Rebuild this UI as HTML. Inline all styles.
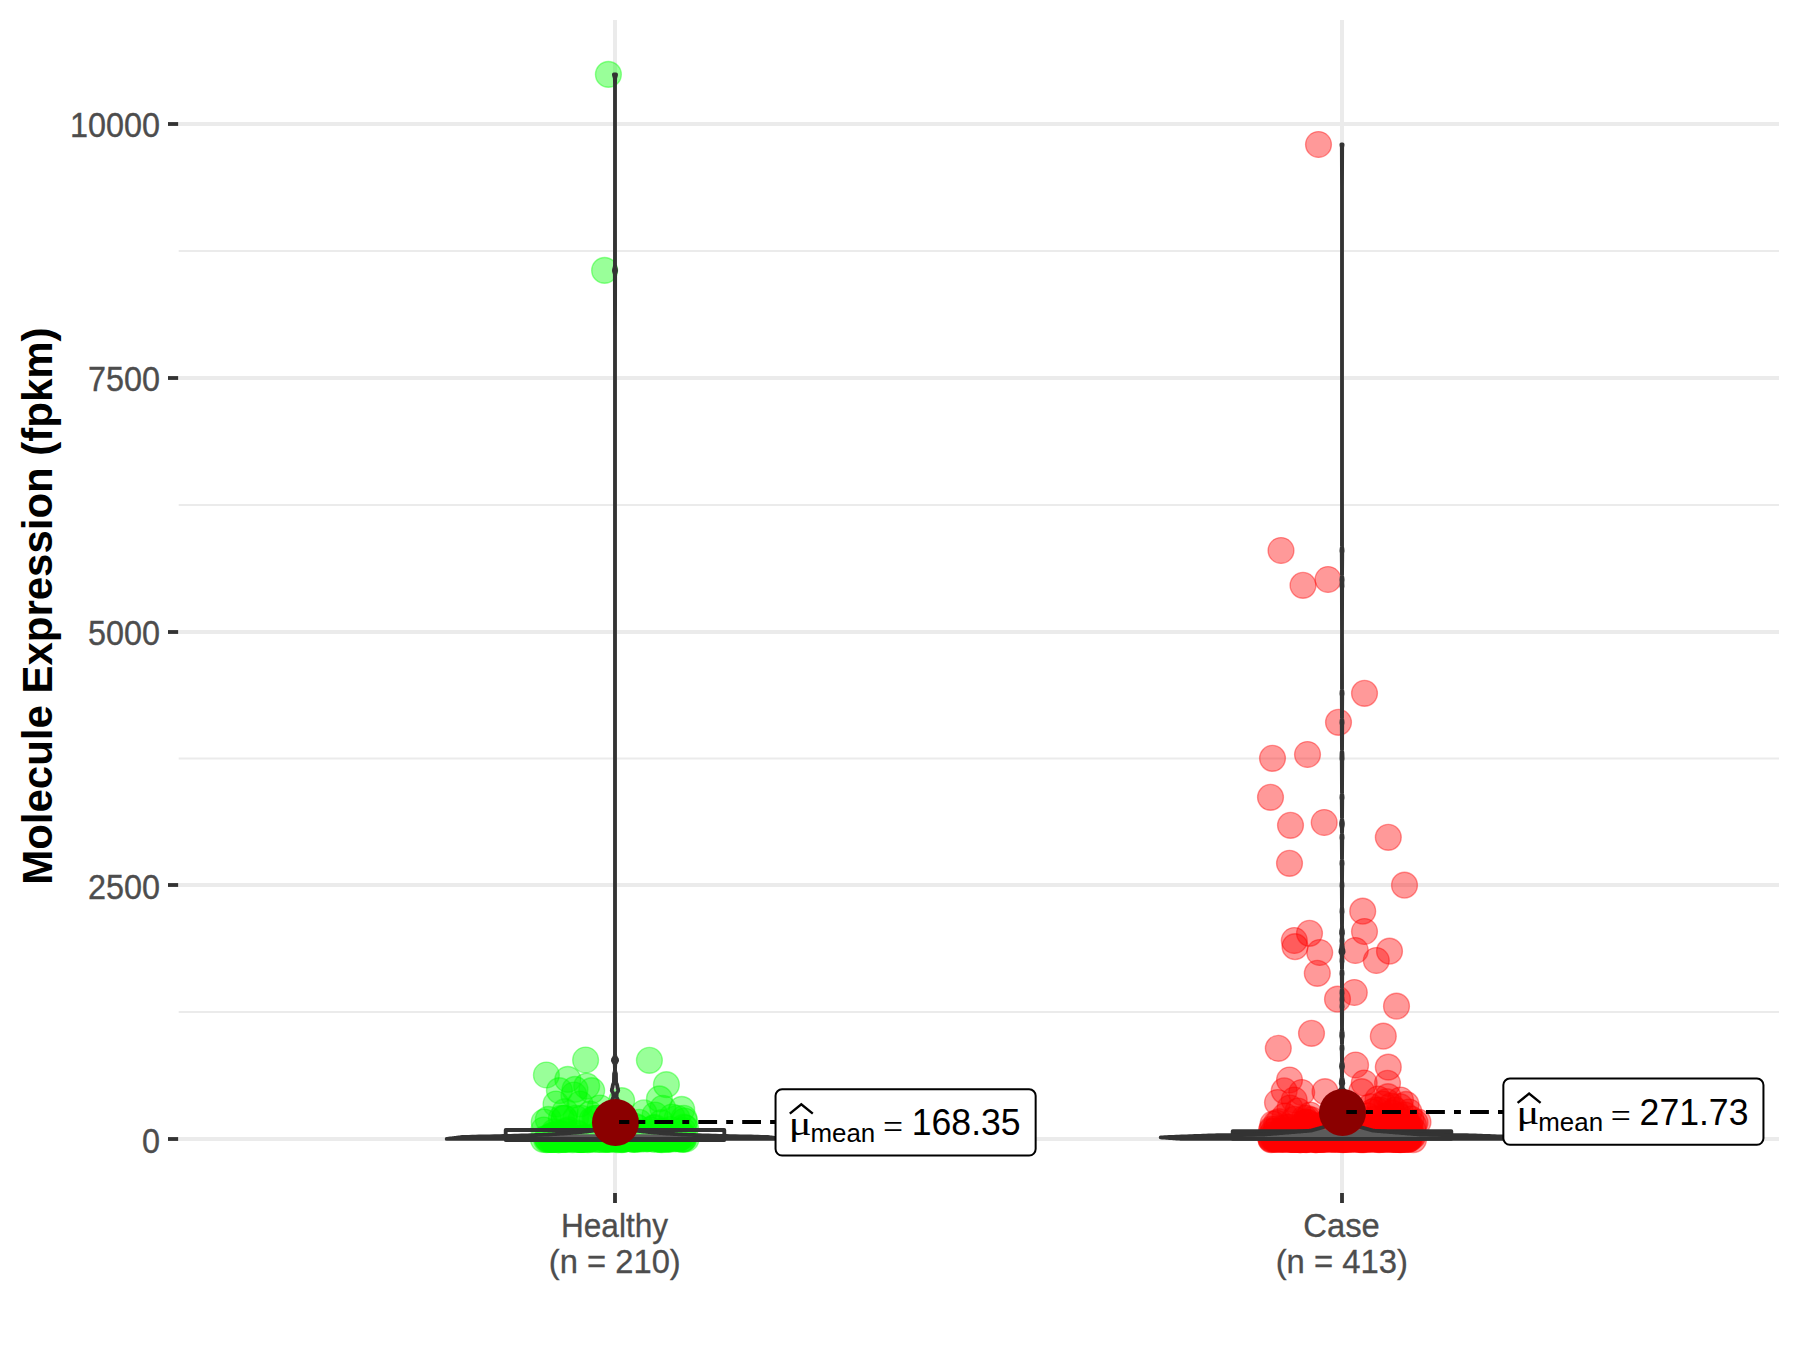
<!DOCTYPE html>
<html lang="en">
<head>
<meta charset="utf-8">
<title>Molecule Expression (fpkm)</title>
<style>
html,body{margin:0;padding:0;background:#fff;}
body{width:1800px;height:1350px;overflow:hidden;font-family:"Liberation Sans",sans-serif;}
svg{display:block;}
</style>
</head>
<body>
<svg width="1800" height="1350" viewBox="0 0 1800 1350">
<rect x="0" y="0" width="1800" height="1350" fill="#fff"/>
<line x1="178.7" x2="1779.0" y1="1012.00" y2="1012.00" stroke="#EBEBEB" stroke-width="1.9"/>
<line x1="178.7" x2="1779.0" y1="758.50" y2="758.50" stroke="#EBEBEB" stroke-width="1.9"/>
<line x1="178.7" x2="1779.0" y1="505.00" y2="505.00" stroke="#EBEBEB" stroke-width="1.9"/>
<line x1="178.7" x2="1779.0" y1="251.00" y2="251.00" stroke="#EBEBEB" stroke-width="1.9"/>
<line x1="178.7" x2="1779.0" y1="1139.00" y2="1139.00" stroke="#EBEBEB" stroke-width="4.0"/>
<line x1="178.7" x2="1779.0" y1="885.00" y2="885.00" stroke="#EBEBEB" stroke-width="4.0"/>
<line x1="178.7" x2="1779.0" y1="632.00" y2="632.00" stroke="#EBEBEB" stroke-width="4.0"/>
<line x1="178.7" x2="1779.0" y1="378.00" y2="378.00" stroke="#EBEBEB" stroke-width="4.0"/>
<line x1="178.7" x2="1779.0" y1="124.00" y2="124.00" stroke="#EBEBEB" stroke-width="4.0"/>
<line x1="615.0" x2="615.0" y1="20.0" y2="1193.0" stroke="#EBEBEB" stroke-width="4.0"/>
<line x1="1342.0" x2="1342.0" y1="20.0" y2="1193.0" stroke="#EBEBEB" stroke-width="4.0"/>
<g fill="rgb(0,255,0)" fill-opacity="0.4" stroke="rgb(0,255,0)" stroke-opacity="0.4" stroke-width="1.4">
<circle cx="608.4" cy="74.4" r="12.9"/>
<circle cx="604.6" cy="270.4" r="12.9"/>
<circle cx="585.6" cy="1060.0" r="12.9"/>
<circle cx="649.4" cy="1060.3" r="12.9"/>
<circle cx="546.4" cy="1075.0" r="12.9"/>
<circle cx="567.8" cy="1079.4" r="12.9"/>
<circle cx="666.4" cy="1084.7" r="12.9"/>
<circle cx="559.4" cy="1090.6" r="12.9"/>
<circle cx="575.0" cy="1089.4" r="12.9"/>
<circle cx="586.7" cy="1086.1" r="12.9"/>
<circle cx="591.7" cy="1090.6" r="12.9"/>
<circle cx="573.9" cy="1095.0" r="12.9"/>
<circle cx="621.7" cy="1100.6" r="12.9"/>
<circle cx="659.4" cy="1098.9" r="12.9"/>
<circle cx="662.8" cy="1108.3" r="12.9"/>
<circle cx="681.7" cy="1109.4" r="12.9"/>
<circle cx="643.9" cy="1112.8" r="12.9"/>
<circle cx="565.0" cy="1111.7" r="12.9"/>
<circle cx="548.3" cy="1119.4" r="12.9"/>
<circle cx="600.0" cy="1108.0" r="12.9"/>
<circle cx="580.0" cy="1104.0" r="12.9"/>
<circle cx="655.0" cy="1115.0" r="12.9"/>
<circle cx="672.0" cy="1117.0" r="12.9"/>
<circle cx="556.0" cy="1104.0" r="12.9"/>
<circle cx="590.0" cy="1114.0" r="12.9"/>
<circle cx="590.0" cy="1138.8" r="12.9"/>
<circle cx="554.3" cy="1136.1" r="12.9"/>
<circle cx="552.2" cy="1139.3" r="12.9"/>
<circle cx="605.6" cy="1139.5" r="12.9"/>
<circle cx="604.3" cy="1138.6" r="12.9"/>
<circle cx="575.7" cy="1118.3" r="12.9"/>
<circle cx="625.9" cy="1138.4" r="12.9"/>
<circle cx="550.6" cy="1137.0" r="12.9"/>
<circle cx="564.5" cy="1139.2" r="12.9"/>
<circle cx="659.9" cy="1138.9" r="12.9"/>
<circle cx="634.7" cy="1138.9" r="12.9"/>
<circle cx="552.9" cy="1139.3" r="12.9"/>
<circle cx="640.6" cy="1139.2" r="12.9"/>
<circle cx="627.1" cy="1136.9" r="12.9"/>
<circle cx="656.8" cy="1137.5" r="12.9"/>
<circle cx="625.6" cy="1123.8" r="12.9"/>
<circle cx="647.6" cy="1138.4" r="12.9"/>
<circle cx="560.8" cy="1138.7" r="12.9"/>
<circle cx="565.6" cy="1139.3" r="12.9"/>
<circle cx="638.9" cy="1133.1" r="12.9"/>
<circle cx="668.3" cy="1138.8" r="12.9"/>
<circle cx="628.4" cy="1135.0" r="12.9"/>
<circle cx="663.3" cy="1134.7" r="12.9"/>
<circle cx="638.3" cy="1138.7" r="12.9"/>
<circle cx="635.9" cy="1126.5" r="12.9"/>
<circle cx="584.4" cy="1138.8" r="12.9"/>
<circle cx="547.2" cy="1138.2" r="12.9"/>
<circle cx="560.6" cy="1138.7" r="12.9"/>
<circle cx="562.4" cy="1139.1" r="12.9"/>
<circle cx="667.7" cy="1139.1" r="12.9"/>
<circle cx="622.0" cy="1126.6" r="12.9"/>
<circle cx="666.7" cy="1139.1" r="12.9"/>
<circle cx="594.9" cy="1118.3" r="12.9"/>
<circle cx="565.4" cy="1139.3" r="12.9"/>
<circle cx="577.1" cy="1132.8" r="12.9"/>
<circle cx="581.3" cy="1139.1" r="12.9"/>
<circle cx="596.4" cy="1118.3" r="12.9"/>
<circle cx="642.1" cy="1132.3" r="12.9"/>
<circle cx="640.0" cy="1138.5" r="12.9"/>
<circle cx="654.8" cy="1127.4" r="12.9"/>
<circle cx="599.7" cy="1139.5" r="12.9"/>
<circle cx="634.1" cy="1139.5" r="12.9"/>
<circle cx="573.6" cy="1139.2" r="12.9"/>
<circle cx="551.5" cy="1139.4" r="12.9"/>
<circle cx="558.4" cy="1139.6" r="12.9"/>
<circle cx="668.2" cy="1138.4" r="12.9"/>
<circle cx="579.8" cy="1139.2" r="12.9"/>
<circle cx="561.4" cy="1118.3" r="12.9"/>
<circle cx="610.2" cy="1138.9" r="12.9"/>
<circle cx="558.5" cy="1139.3" r="12.9"/>
<circle cx="661.7" cy="1139.6" r="12.9"/>
<circle cx="679.0" cy="1138.4" r="12.9"/>
<circle cx="621.1" cy="1139.0" r="12.9"/>
<circle cx="682.9" cy="1130.5" r="12.9"/>
<circle cx="581.1" cy="1139.4" r="12.9"/>
<circle cx="653.6" cy="1128.1" r="12.9"/>
<circle cx="590.8" cy="1138.6" r="12.9"/>
<circle cx="683.9" cy="1127.1" r="12.9"/>
<circle cx="660.2" cy="1137.6" r="12.9"/>
<circle cx="617.5" cy="1139.6" r="12.9"/>
<circle cx="548.0" cy="1139.3" r="12.9"/>
<circle cx="642.3" cy="1135.1" r="12.9"/>
<circle cx="677.1" cy="1118.3" r="12.9"/>
<circle cx="595.8" cy="1139.3" r="12.9"/>
<circle cx="571.9" cy="1138.8" r="12.9"/>
<circle cx="671.8" cy="1134.6" r="12.9"/>
<circle cx="636.7" cy="1138.9" r="12.9"/>
<circle cx="637.8" cy="1128.0" r="12.9"/>
<circle cx="650.5" cy="1138.1" r="12.9"/>
<circle cx="656.1" cy="1138.6" r="12.9"/>
<circle cx="682.0" cy="1139.1" r="12.9"/>
<circle cx="678.4" cy="1138.2" r="12.9"/>
<circle cx="562.0" cy="1138.5" r="12.9"/>
<circle cx="658.5" cy="1138.6" r="12.9"/>
<circle cx="683.2" cy="1136.3" r="12.9"/>
<circle cx="621.9" cy="1139.6" r="12.9"/>
<circle cx="681.9" cy="1133.9" r="12.9"/>
<circle cx="676.6" cy="1138.5" r="12.9"/>
<circle cx="661.3" cy="1139.3" r="12.9"/>
<circle cx="585.6" cy="1138.9" r="12.9"/>
<circle cx="580.8" cy="1139.4" r="12.9"/>
<circle cx="673.2" cy="1139.0" r="12.9"/>
<circle cx="626.8" cy="1135.4" r="12.9"/>
<circle cx="674.3" cy="1133.8" r="12.9"/>
<circle cx="618.3" cy="1139.1" r="12.9"/>
<circle cx="570.0" cy="1138.6" r="12.9"/>
<circle cx="568.5" cy="1129.8" r="12.9"/>
<circle cx="623.0" cy="1139.0" r="12.9"/>
<circle cx="622.9" cy="1138.7" r="12.9"/>
<circle cx="623.6" cy="1139.3" r="12.9"/>
<circle cx="653.7" cy="1133.3" r="12.9"/>
<circle cx="651.9" cy="1135.1" r="12.9"/>
<circle cx="631.0" cy="1134.1" r="12.9"/>
<circle cx="642.4" cy="1133.8" r="12.9"/>
<circle cx="611.9" cy="1130.5" r="12.9"/>
<circle cx="668.5" cy="1137.3" r="12.9"/>
<circle cx="623.5" cy="1125.6" r="12.9"/>
<circle cx="563.5" cy="1139.1" r="12.9"/>
<circle cx="554.3" cy="1139.5" r="12.9"/>
<circle cx="639.1" cy="1122.3" r="12.9"/>
<circle cx="565.9" cy="1131.4" r="12.9"/>
<circle cx="564.3" cy="1118.3" r="12.9"/>
<circle cx="575.2" cy="1135.7" r="12.9"/>
<circle cx="613.2" cy="1126.0" r="12.9"/>
<circle cx="566.9" cy="1139.0" r="12.9"/>
<circle cx="592.2" cy="1139.2" r="12.9"/>
<circle cx="646.5" cy="1138.9" r="12.9"/>
<circle cx="606.5" cy="1139.2" r="12.9"/>
<circle cx="632.6" cy="1139.1" r="12.9"/>
<circle cx="683.9" cy="1118.3" r="12.9"/>
<circle cx="558.9" cy="1139.6" r="12.9"/>
<circle cx="654.6" cy="1139.4" r="12.9"/>
<circle cx="604.0" cy="1126.6" r="12.9"/>
<circle cx="580.7" cy="1138.5" r="12.9"/>
<circle cx="625.0" cy="1138.9" r="12.9"/>
<circle cx="552.2" cy="1135.4" r="12.9"/>
<circle cx="554.3" cy="1131.9" r="12.9"/>
<circle cx="657.8" cy="1138.6" r="12.9"/>
<circle cx="553.5" cy="1135.0" r="12.9"/>
<circle cx="592.2" cy="1119.7" r="12.9"/>
<circle cx="582.0" cy="1139.0" r="12.9"/>
<circle cx="577.9" cy="1139.4" r="12.9"/>
<circle cx="551.2" cy="1139.2" r="12.9"/>
<circle cx="587.3" cy="1137.0" r="12.9"/>
<circle cx="615.0" cy="1139.2" r="12.9"/>
<circle cx="546.6" cy="1139.6" r="12.9"/>
<circle cx="648.1" cy="1138.0" r="12.9"/>
<circle cx="611.4" cy="1138.7" r="12.9"/>
<circle cx="660.3" cy="1139.0" r="12.9"/>
<circle cx="662.5" cy="1139.0" r="12.9"/>
<circle cx="641.7" cy="1136.4" r="12.9"/>
<circle cx="662.2" cy="1131.9" r="12.9"/>
<circle cx="601.5" cy="1139.5" r="12.9"/>
<circle cx="562.4" cy="1138.7" r="12.9"/>
<circle cx="580.3" cy="1139.5" r="12.9"/>
<circle cx="663.5" cy="1131.1" r="12.9"/>
<circle cx="584.0" cy="1139.2" r="12.9"/>
<circle cx="609.2" cy="1139.1" r="12.9"/>
<circle cx="581.4" cy="1118.3" r="12.9"/>
<circle cx="621.7" cy="1138.4" r="12.9"/>
<circle cx="588.0" cy="1139.6" r="12.9"/>
<circle cx="598.2" cy="1134.3" r="12.9"/>
<circle cx="572.5" cy="1139.6" r="12.9"/>
<circle cx="581.5" cy="1139.1" r="12.9"/>
<circle cx="549.9" cy="1139.2" r="12.9"/>
<circle cx="577.1" cy="1133.9" r="12.9"/>
<circle cx="650.6" cy="1130.0" r="12.9"/>
<circle cx="668.8" cy="1139.2" r="12.9"/>
<circle cx="683.8" cy="1138.7" r="12.9"/>
<circle cx="635.3" cy="1138.6" r="12.9"/>
<circle cx="670.7" cy="1129.5" r="12.9"/>
<circle cx="659.3" cy="1139.0" r="12.9"/>
<circle cx="615.6" cy="1127.2" r="12.9"/>
<circle cx="661.4" cy="1122.6" r="12.9"/>
<circle cx="641.0" cy="1137.6" r="12.9"/>
<circle cx="548.4" cy="1139.2" r="12.9"/>
<circle cx="558.9" cy="1133.4" r="12.9"/>
<circle cx="633.1" cy="1130.9" r="12.9"/>
<circle cx="613.5" cy="1138.6" r="12.9"/>
<circle cx="650.3" cy="1133.8" r="12.9"/>
<circle cx="637.6" cy="1138.7" r="12.9"/>
<circle cx="579.8" cy="1139.3" r="12.9"/>
<circle cx="647.6" cy="1138.7" r="12.9"/>
<circle cx="682.6" cy="1135.9" r="12.9"/>
<circle cx="612.0" cy="1128.5" r="12.9"/>
<circle cx="631.6" cy="1139.0" r="12.9"/>
<circle cx="564.9" cy="1138.7" r="12.9"/>
<circle cx="587.2" cy="1139.5" r="12.9"/>
<circle cx="552.6" cy="1138.8" r="12.9"/>
<circle cx="642.3" cy="1137.0" r="12.9"/>
<circle cx="617.3" cy="1134.8" r="12.9"/>
<circle cx="560.8" cy="1137.9" r="12.9"/>
<circle cx="682.9" cy="1139.5" r="12.9"/>
<circle cx="609.2" cy="1118.3" r="12.9"/>
<circle cx="607.8" cy="1139.3" r="12.9"/>
<circle cx="678.3" cy="1138.9" r="12.9"/>
<circle cx="564.1" cy="1118.3" r="12.9"/>
<circle cx="562.8" cy="1134.2" r="12.9"/>
<circle cx="669.9" cy="1137.6" r="12.9"/>
<circle cx="543.4" cy="1139.3" r="12.9"/>
<circle cx="686.0" cy="1139.0" r="12.9"/>
<circle cx="543.8" cy="1130.0" r="12.9"/>
<circle cx="685.5" cy="1128.0" r="12.9"/>
<circle cx="544.2" cy="1122.0" r="12.9"/>
<circle cx="684.5" cy="1121.0" r="12.9"/>
</g>
<g fill="rgb(255,0,0)" fill-opacity="0.4" stroke="rgb(255,0,0)" stroke-opacity="0.4" stroke-width="1.4">
<circle cx="1318.5" cy="144.5" r="12.9"/>
<circle cx="1281.0" cy="550.5" r="12.9"/>
<circle cx="1303.0" cy="585.3" r="12.9"/>
<circle cx="1328.0" cy="579.5" r="12.9"/>
<circle cx="1364.5" cy="693.3" r="12.9"/>
<circle cx="1338.5" cy="722.3" r="12.9"/>
<circle cx="1307.5" cy="754.5" r="12.9"/>
<circle cx="1272.5" cy="758.3" r="12.9"/>
<circle cx="1270.5" cy="797.3" r="12.9"/>
<circle cx="1324.2" cy="822.5" r="12.9"/>
<circle cx="1290.5" cy="825.3" r="12.9"/>
<circle cx="1388.3" cy="837.3" r="12.9"/>
<circle cx="1289.5" cy="863.3" r="12.9"/>
<circle cx="1404.5" cy="885.2" r="12.9"/>
<circle cx="1362.7" cy="911.2" r="12.9"/>
<circle cx="1364.5" cy="931.5" r="12.9"/>
<circle cx="1309.5" cy="933.3" r="12.9"/>
<circle cx="1294.3" cy="940.5" r="12.9"/>
<circle cx="1295.0" cy="946.7" r="12.9"/>
<circle cx="1319.7" cy="952.5" r="12.9"/>
<circle cx="1355.3" cy="950.5" r="12.9"/>
<circle cx="1389.5" cy="951.2" r="12.9"/>
<circle cx="1376.3" cy="960.5" r="12.9"/>
<circle cx="1317.3" cy="973.3" r="12.9"/>
<circle cx="1354.3" cy="992.5" r="12.9"/>
<circle cx="1337.5" cy="999.2" r="12.9"/>
<circle cx="1396.5" cy="1006.2" r="12.9"/>
<circle cx="1311.5" cy="1033.3" r="12.9"/>
<circle cx="1383.3" cy="1036.2" r="12.9"/>
<circle cx="1278.3" cy="1048.3" r="12.9"/>
<circle cx="1355.6" cy="1065.0" r="12.9"/>
<circle cx="1388.3" cy="1067.1" r="12.9"/>
<circle cx="1289.5" cy="1080.0" r="12.9"/>
<circle cx="1364.2" cy="1083.0" r="12.9"/>
<circle cx="1387.5" cy="1083.3" r="12.9"/>
<circle cx="1284.2" cy="1090.8" r="12.9"/>
<circle cx="1301.7" cy="1092.5" r="12.9"/>
<circle cx="1325.0" cy="1091.7" r="12.9"/>
<circle cx="1361.7" cy="1091.7" r="12.9"/>
<circle cx="1277.5" cy="1102.5" r="12.9"/>
<circle cx="1294.2" cy="1100.0" r="12.9"/>
<circle cx="1298.0" cy="1111.0" r="12.9"/>
<circle cx="1386.7" cy="1101.7" r="12.9"/>
<circle cx="1400.0" cy="1106.7" r="12.9"/>
<circle cx="1415.0" cy="1122.5" r="12.9"/>
<circle cx="1290.0" cy="1108.0" r="12.9"/>
<circle cx="1380.0" cy="1110.0" r="12.9"/>
<circle cx="1392.0" cy="1113.0" r="12.9"/>
<circle cx="1372.0" cy="1112.0" r="12.9"/>
<circle cx="1405.0" cy="1115.0" r="12.9"/>
<circle cx="1285.0" cy="1116.0" r="12.9"/>
<circle cx="1310.0" cy="1115.0" r="12.9"/>
<circle cx="1378.0" cy="1099.0" r="12.9"/>
<circle cx="1388.0" cy="1096.7" r="12.9"/>
<circle cx="1400.5" cy="1100.0" r="12.9"/>
<circle cx="1406.0" cy="1104.4" r="12.9"/>
<circle cx="1370.5" cy="1106.7" r="12.9"/>
<circle cx="1395.0" cy="1110.0" r="12.9"/>
<circle cx="1409.0" cy="1112.0" r="12.9"/>
<circle cx="1418.0" cy="1122.0" r="12.9"/>
<circle cx="1383.0" cy="1104.0" r="12.9"/>
<circle cx="1391.0" cy="1106.0" r="12.9"/>
<circle cx="1376.0" cy="1110.0" r="12.9"/>
<circle cx="1399.0" cy="1116.0" r="12.9"/>
<circle cx="1385.0" cy="1117.0" r="12.9"/>
<circle cx="1411.0" cy="1119.0" r="12.9"/>
<circle cx="1368.0" cy="1116.0" r="12.9"/>
<circle cx="1398.5" cy="1139.4" r="12.9"/>
<circle cx="1271.5" cy="1135.0" r="12.9"/>
<circle cx="1313.9" cy="1139.2" r="12.9"/>
<circle cx="1315.9" cy="1139.6" r="12.9"/>
<circle cx="1377.6" cy="1138.6" r="12.9"/>
<circle cx="1402.5" cy="1122.0" r="12.9"/>
<circle cx="1312.2" cy="1139.1" r="12.9"/>
<circle cx="1412.8" cy="1136.2" r="12.9"/>
<circle cx="1331.8" cy="1139.5" r="12.9"/>
<circle cx="1285.4" cy="1137.0" r="12.9"/>
<circle cx="1403.9" cy="1139.3" r="12.9"/>
<circle cx="1343.6" cy="1139.1" r="12.9"/>
<circle cx="1406.8" cy="1126.9" r="12.9"/>
<circle cx="1360.6" cy="1118.3" r="12.9"/>
<circle cx="1349.0" cy="1139.2" r="12.9"/>
<circle cx="1375.0" cy="1129.0" r="12.9"/>
<circle cx="1362.5" cy="1139.5" r="12.9"/>
<circle cx="1402.6" cy="1139.0" r="12.9"/>
<circle cx="1319.8" cy="1138.7" r="12.9"/>
<circle cx="1409.6" cy="1138.8" r="12.9"/>
<circle cx="1313.7" cy="1135.8" r="12.9"/>
<circle cx="1294.8" cy="1139.3" r="12.9"/>
<circle cx="1399.6" cy="1137.7" r="12.9"/>
<circle cx="1399.7" cy="1135.0" r="12.9"/>
<circle cx="1290.8" cy="1139.5" r="12.9"/>
<circle cx="1319.6" cy="1139.3" r="12.9"/>
<circle cx="1307.7" cy="1123.0" r="12.9"/>
<circle cx="1377.5" cy="1139.1" r="12.9"/>
<circle cx="1345.4" cy="1139.2" r="12.9"/>
<circle cx="1279.8" cy="1138.4" r="12.9"/>
<circle cx="1288.9" cy="1132.0" r="12.9"/>
<circle cx="1393.5" cy="1139.3" r="12.9"/>
<circle cx="1306.3" cy="1139.1" r="12.9"/>
<circle cx="1406.5" cy="1123.9" r="12.9"/>
<circle cx="1274.1" cy="1138.7" r="12.9"/>
<circle cx="1398.2" cy="1132.9" r="12.9"/>
<circle cx="1271.0" cy="1138.5" r="12.9"/>
<circle cx="1388.2" cy="1118.3" r="12.9"/>
<circle cx="1306.3" cy="1139.4" r="12.9"/>
<circle cx="1345.2" cy="1118.3" r="12.9"/>
<circle cx="1373.5" cy="1128.6" r="12.9"/>
<circle cx="1335.9" cy="1139.3" r="12.9"/>
<circle cx="1382.1" cy="1138.5" r="12.9"/>
<circle cx="1362.7" cy="1139.4" r="12.9"/>
<circle cx="1306.8" cy="1130.5" r="12.9"/>
<circle cx="1286.9" cy="1139.0" r="12.9"/>
<circle cx="1353.8" cy="1139.3" r="12.9"/>
<circle cx="1356.4" cy="1139.2" r="12.9"/>
<circle cx="1336.4" cy="1131.7" r="12.9"/>
<circle cx="1396.5" cy="1137.6" r="12.9"/>
<circle cx="1306.1" cy="1130.3" r="12.9"/>
<circle cx="1314.7" cy="1139.0" r="12.9"/>
<circle cx="1366.8" cy="1139.3" r="12.9"/>
<circle cx="1365.8" cy="1137.6" r="12.9"/>
<circle cx="1275.8" cy="1139.1" r="12.9"/>
<circle cx="1367.9" cy="1138.6" r="12.9"/>
<circle cx="1376.0" cy="1137.9" r="12.9"/>
<circle cx="1408.7" cy="1138.6" r="12.9"/>
<circle cx="1303.8" cy="1138.7" r="12.9"/>
<circle cx="1312.9" cy="1134.4" r="12.9"/>
<circle cx="1297.6" cy="1139.1" r="12.9"/>
<circle cx="1365.5" cy="1138.4" r="12.9"/>
<circle cx="1326.9" cy="1138.4" r="12.9"/>
<circle cx="1291.2" cy="1139.5" r="12.9"/>
<circle cx="1326.9" cy="1123.2" r="12.9"/>
<circle cx="1375.0" cy="1119.2" r="12.9"/>
<circle cx="1317.8" cy="1138.5" r="12.9"/>
<circle cx="1377.0" cy="1138.8" r="12.9"/>
<circle cx="1324.8" cy="1139.2" r="12.9"/>
<circle cx="1295.0" cy="1139.3" r="12.9"/>
<circle cx="1320.9" cy="1138.6" r="12.9"/>
<circle cx="1407.9" cy="1139.2" r="12.9"/>
<circle cx="1387.7" cy="1135.3" r="12.9"/>
<circle cx="1278.0" cy="1136.0" r="12.9"/>
<circle cx="1401.6" cy="1139.2" r="12.9"/>
<circle cx="1398.4" cy="1139.1" r="12.9"/>
<circle cx="1386.3" cy="1139.3" r="12.9"/>
<circle cx="1275.9" cy="1138.5" r="12.9"/>
<circle cx="1307.5" cy="1122.2" r="12.9"/>
<circle cx="1319.1" cy="1138.4" r="12.9"/>
<circle cx="1358.6" cy="1138.7" r="12.9"/>
<circle cx="1315.9" cy="1139.6" r="12.9"/>
<circle cx="1378.3" cy="1131.9" r="12.9"/>
<circle cx="1404.9" cy="1139.3" r="12.9"/>
<circle cx="1338.5" cy="1118.3" r="12.9"/>
<circle cx="1325.9" cy="1139.1" r="12.9"/>
<circle cx="1341.1" cy="1138.1" r="12.9"/>
<circle cx="1385.0" cy="1126.4" r="12.9"/>
<circle cx="1380.7" cy="1136.6" r="12.9"/>
<circle cx="1316.4" cy="1138.6" r="12.9"/>
<circle cx="1282.2" cy="1138.7" r="12.9"/>
<circle cx="1306.1" cy="1139.6" r="12.9"/>
<circle cx="1349.5" cy="1138.4" r="12.9"/>
<circle cx="1396.5" cy="1137.3" r="12.9"/>
<circle cx="1282.9" cy="1139.0" r="12.9"/>
<circle cx="1371.8" cy="1139.3" r="12.9"/>
<circle cx="1330.2" cy="1131.1" r="12.9"/>
<circle cx="1377.2" cy="1131.3" r="12.9"/>
<circle cx="1288.2" cy="1137.0" r="12.9"/>
<circle cx="1351.5" cy="1138.7" r="12.9"/>
<circle cx="1299.3" cy="1139.3" r="12.9"/>
<circle cx="1292.8" cy="1133.0" r="12.9"/>
<circle cx="1317.3" cy="1138.4" r="12.9"/>
<circle cx="1343.0" cy="1138.6" r="12.9"/>
<circle cx="1363.8" cy="1138.8" r="12.9"/>
<circle cx="1338.4" cy="1125.6" r="12.9"/>
<circle cx="1400.8" cy="1139.2" r="12.9"/>
<circle cx="1287.9" cy="1138.4" r="12.9"/>
<circle cx="1353.8" cy="1136.1" r="12.9"/>
<circle cx="1394.0" cy="1139.3" r="12.9"/>
<circle cx="1381.4" cy="1138.7" r="12.9"/>
<circle cx="1355.7" cy="1137.7" r="12.9"/>
<circle cx="1323.4" cy="1139.4" r="12.9"/>
<circle cx="1307.2" cy="1131.6" r="12.9"/>
<circle cx="1299.9" cy="1139.2" r="12.9"/>
<circle cx="1367.3" cy="1139.2" r="12.9"/>
<circle cx="1299.9" cy="1133.6" r="12.9"/>
<circle cx="1280.0" cy="1139.1" r="12.9"/>
<circle cx="1349.1" cy="1138.9" r="12.9"/>
<circle cx="1294.2" cy="1135.6" r="12.9"/>
<circle cx="1311.2" cy="1138.4" r="12.9"/>
<circle cx="1315.4" cy="1136.2" r="12.9"/>
<circle cx="1330.1" cy="1118.3" r="12.9"/>
<circle cx="1322.7" cy="1138.7" r="12.9"/>
<circle cx="1299.9" cy="1138.5" r="12.9"/>
<circle cx="1331.2" cy="1135.6" r="12.9"/>
<circle cx="1396.4" cy="1138.2" r="12.9"/>
<circle cx="1273.1" cy="1131.8" r="12.9"/>
<circle cx="1400.2" cy="1138.8" r="12.9"/>
<circle cx="1323.7" cy="1138.4" r="12.9"/>
<circle cx="1311.2" cy="1119.8" r="12.9"/>
<circle cx="1286.4" cy="1127.2" r="12.9"/>
<circle cx="1408.3" cy="1139.4" r="12.9"/>
<circle cx="1404.9" cy="1134.6" r="12.9"/>
<circle cx="1278.6" cy="1135.9" r="12.9"/>
<circle cx="1399.4" cy="1126.4" r="12.9"/>
<circle cx="1293.8" cy="1137.7" r="12.9"/>
<circle cx="1328.4" cy="1126.1" r="12.9"/>
<circle cx="1297.0" cy="1139.1" r="12.9"/>
<circle cx="1344.5" cy="1139.5" r="12.9"/>
<circle cx="1306.1" cy="1122.3" r="12.9"/>
<circle cx="1276.8" cy="1128.8" r="12.9"/>
<circle cx="1276.4" cy="1138.6" r="12.9"/>
<circle cx="1356.1" cy="1132.1" r="12.9"/>
<circle cx="1314.5" cy="1138.9" r="12.9"/>
<circle cx="1331.5" cy="1135.1" r="12.9"/>
<circle cx="1333.2" cy="1138.8" r="12.9"/>
<circle cx="1340.5" cy="1138.7" r="12.9"/>
<circle cx="1381.8" cy="1138.1" r="12.9"/>
<circle cx="1338.2" cy="1139.4" r="12.9"/>
<circle cx="1332.1" cy="1139.1" r="12.9"/>
<circle cx="1343.4" cy="1138.8" r="12.9"/>
<circle cx="1282.7" cy="1128.2" r="12.9"/>
<circle cx="1343.6" cy="1139.0" r="12.9"/>
<circle cx="1324.7" cy="1138.5" r="12.9"/>
<circle cx="1392.7" cy="1129.6" r="12.9"/>
<circle cx="1386.7" cy="1138.4" r="12.9"/>
<circle cx="1340.8" cy="1120.7" r="12.9"/>
<circle cx="1294.4" cy="1119.3" r="12.9"/>
<circle cx="1280.3" cy="1138.7" r="12.9"/>
<circle cx="1293.5" cy="1137.2" r="12.9"/>
<circle cx="1386.8" cy="1139.0" r="12.9"/>
<circle cx="1401.6" cy="1139.3" r="12.9"/>
<circle cx="1342.9" cy="1139.6" r="12.9"/>
<circle cx="1296.9" cy="1138.5" r="12.9"/>
<circle cx="1367.5" cy="1138.2" r="12.9"/>
<circle cx="1382.5" cy="1139.0" r="12.9"/>
<circle cx="1361.4" cy="1138.5" r="12.9"/>
<circle cx="1349.8" cy="1123.3" r="12.9"/>
<circle cx="1285.9" cy="1132.0" r="12.9"/>
<circle cx="1327.0" cy="1137.3" r="12.9"/>
<circle cx="1411.7" cy="1136.2" r="12.9"/>
<circle cx="1379.6" cy="1139.4" r="12.9"/>
<circle cx="1376.6" cy="1138.6" r="12.9"/>
<circle cx="1307.0" cy="1118.3" r="12.9"/>
<circle cx="1354.2" cy="1136.7" r="12.9"/>
<circle cx="1271.3" cy="1139.4" r="12.9"/>
<circle cx="1358.5" cy="1139.0" r="12.9"/>
<circle cx="1398.2" cy="1139.3" r="12.9"/>
<circle cx="1363.7" cy="1139.6" r="12.9"/>
<circle cx="1321.4" cy="1139.2" r="12.9"/>
<circle cx="1302.8" cy="1132.8" r="12.9"/>
<circle cx="1300.0" cy="1134.7" r="12.9"/>
<circle cx="1290.1" cy="1137.5" r="12.9"/>
<circle cx="1292.2" cy="1138.8" r="12.9"/>
<circle cx="1394.7" cy="1135.7" r="12.9"/>
<circle cx="1308.5" cy="1138.8" r="12.9"/>
<circle cx="1350.9" cy="1138.8" r="12.9"/>
<circle cx="1334.0" cy="1129.5" r="12.9"/>
<circle cx="1306.3" cy="1139.3" r="12.9"/>
<circle cx="1346.5" cy="1139.3" r="12.9"/>
<circle cx="1279.3" cy="1139.5" r="12.9"/>
<circle cx="1349.2" cy="1138.4" r="12.9"/>
<circle cx="1299.3" cy="1134.2" r="12.9"/>
<circle cx="1362.1" cy="1138.1" r="12.9"/>
<circle cx="1314.9" cy="1139.5" r="12.9"/>
<circle cx="1397.3" cy="1130.0" r="12.9"/>
<circle cx="1271.9" cy="1129.2" r="12.9"/>
<circle cx="1337.1" cy="1135.0" r="12.9"/>
<circle cx="1303.1" cy="1139.3" r="12.9"/>
<circle cx="1276.5" cy="1138.7" r="12.9"/>
<circle cx="1369.7" cy="1130.1" r="12.9"/>
<circle cx="1308.8" cy="1135.2" r="12.9"/>
<circle cx="1383.0" cy="1137.3" r="12.9"/>
<circle cx="1362.2" cy="1137.7" r="12.9"/>
<circle cx="1396.0" cy="1139.3" r="12.9"/>
<circle cx="1304.5" cy="1118.3" r="12.9"/>
<circle cx="1377.0" cy="1138.5" r="12.9"/>
<circle cx="1317.7" cy="1138.5" r="12.9"/>
<circle cx="1360.6" cy="1131.3" r="12.9"/>
<circle cx="1410.0" cy="1125.7" r="12.9"/>
<circle cx="1370.1" cy="1135.2" r="12.9"/>
<circle cx="1373.9" cy="1136.8" r="12.9"/>
<circle cx="1301.1" cy="1139.0" r="12.9"/>
<circle cx="1400.3" cy="1139.6" r="12.9"/>
<circle cx="1286.1" cy="1136.4" r="12.9"/>
<circle cx="1291.1" cy="1139.5" r="12.9"/>
<circle cx="1369.4" cy="1130.5" r="12.9"/>
<circle cx="1375.6" cy="1138.9" r="12.9"/>
<circle cx="1322.6" cy="1126.6" r="12.9"/>
<circle cx="1397.6" cy="1138.5" r="12.9"/>
<circle cx="1400.8" cy="1138.7" r="12.9"/>
<circle cx="1300.2" cy="1139.6" r="12.9"/>
<circle cx="1391.4" cy="1131.9" r="12.9"/>
<circle cx="1388.2" cy="1137.0" r="12.9"/>
<circle cx="1285.2" cy="1138.7" r="12.9"/>
<circle cx="1300.1" cy="1139.1" r="12.9"/>
<circle cx="1274.0" cy="1139.3" r="12.9"/>
<circle cx="1372.6" cy="1139.2" r="12.9"/>
<circle cx="1407.9" cy="1125.1" r="12.9"/>
<circle cx="1358.8" cy="1139.1" r="12.9"/>
<circle cx="1333.0" cy="1136.4" r="12.9"/>
<circle cx="1371.1" cy="1137.7" r="12.9"/>
<circle cx="1393.4" cy="1138.6" r="12.9"/>
<circle cx="1295.2" cy="1139.4" r="12.9"/>
<circle cx="1379.2" cy="1139.6" r="12.9"/>
<circle cx="1340.7" cy="1127.5" r="12.9"/>
<circle cx="1297.2" cy="1136.4" r="12.9"/>
<circle cx="1389.1" cy="1138.5" r="12.9"/>
<circle cx="1311.3" cy="1138.7" r="12.9"/>
<circle cx="1341.8" cy="1138.8" r="12.9"/>
<circle cx="1282.5" cy="1130.5" r="12.9"/>
<circle cx="1382.7" cy="1136.3" r="12.9"/>
<circle cx="1328.0" cy="1138.5" r="12.9"/>
<circle cx="1283.2" cy="1139.4" r="12.9"/>
<circle cx="1300.3" cy="1138.5" r="12.9"/>
<circle cx="1342.2" cy="1138.5" r="12.9"/>
<circle cx="1304.2" cy="1133.8" r="12.9"/>
<circle cx="1378.1" cy="1131.7" r="12.9"/>
<circle cx="1320.5" cy="1139.4" r="12.9"/>
<circle cx="1390.7" cy="1129.3" r="12.9"/>
<circle cx="1295.1" cy="1138.7" r="12.9"/>
<circle cx="1353.2" cy="1139.0" r="12.9"/>
<circle cx="1396.7" cy="1139.4" r="12.9"/>
<circle cx="1313.8" cy="1125.5" r="12.9"/>
<circle cx="1293.0" cy="1139.3" r="12.9"/>
<circle cx="1317.4" cy="1138.3" r="12.9"/>
<circle cx="1317.6" cy="1138.4" r="12.9"/>
<circle cx="1374.5" cy="1138.4" r="12.9"/>
<circle cx="1285.4" cy="1138.4" r="12.9"/>
<circle cx="1383.9" cy="1135.3" r="12.9"/>
<circle cx="1298.9" cy="1138.7" r="12.9"/>
<circle cx="1300.3" cy="1139.6" r="12.9"/>
<circle cx="1327.7" cy="1130.6" r="12.9"/>
<circle cx="1342.1" cy="1134.9" r="12.9"/>
<circle cx="1291.1" cy="1135.7" r="12.9"/>
<circle cx="1376.2" cy="1135.3" r="12.9"/>
<circle cx="1352.5" cy="1135.4" r="12.9"/>
<circle cx="1303.5" cy="1123.5" r="12.9"/>
<circle cx="1380.9" cy="1125.0" r="12.9"/>
<circle cx="1367.5" cy="1135.0" r="12.9"/>
<circle cx="1315.4" cy="1138.8" r="12.9"/>
<circle cx="1330.6" cy="1130.1" r="12.9"/>
<circle cx="1360.4" cy="1139.1" r="12.9"/>
<circle cx="1335.6" cy="1135.6" r="12.9"/>
<circle cx="1366.9" cy="1138.1" r="12.9"/>
<circle cx="1363.9" cy="1135.9" r="12.9"/>
<circle cx="1340.6" cy="1139.3" r="12.9"/>
<circle cx="1348.2" cy="1138.6" r="12.9"/>
<circle cx="1404.6" cy="1138.8" r="12.9"/>
<circle cx="1352.6" cy="1130.0" r="12.9"/>
<circle cx="1343.7" cy="1126.2" r="12.9"/>
<circle cx="1345.1" cy="1138.4" r="12.9"/>
<circle cx="1300.8" cy="1135.8" r="12.9"/>
<circle cx="1379.3" cy="1138.4" r="12.9"/>
<circle cx="1321.5" cy="1139.3" r="12.9"/>
<circle cx="1327.8" cy="1139.1" r="12.9"/>
<circle cx="1330.7" cy="1136.3" r="12.9"/>
<circle cx="1308.7" cy="1138.7" r="12.9"/>
<circle cx="1404.5" cy="1137.7" r="12.9"/>
<circle cx="1384.8" cy="1139.3" r="12.9"/>
<circle cx="1289.4" cy="1127.0" r="12.9"/>
<circle cx="1361.1" cy="1133.3" r="12.9"/>
<circle cx="1303.1" cy="1136.3" r="12.9"/>
<circle cx="1361.7" cy="1126.7" r="12.9"/>
<circle cx="1337.5" cy="1138.9" r="12.9"/>
<circle cx="1288.8" cy="1136.3" r="12.9"/>
<circle cx="1391.8" cy="1139.1" r="12.9"/>
<circle cx="1307.0" cy="1139.4" r="12.9"/>
<circle cx="1271.4" cy="1137.1" r="12.9"/>
<circle cx="1305.8" cy="1139.0" r="12.9"/>
<circle cx="1331.8" cy="1131.4" r="12.9"/>
<circle cx="1322.5" cy="1124.9" r="12.9"/>
<circle cx="1279.1" cy="1121.6" r="12.9"/>
<circle cx="1382.3" cy="1138.6" r="12.9"/>
<circle cx="1360.9" cy="1139.6" r="12.9"/>
<circle cx="1406.2" cy="1137.4" r="12.9"/>
<circle cx="1285.4" cy="1139.3" r="12.9"/>
<circle cx="1381.2" cy="1139.4" r="12.9"/>
<circle cx="1399.4" cy="1138.2" r="12.9"/>
<circle cx="1397.5" cy="1128.0" r="12.9"/>
<circle cx="1365.9" cy="1127.8" r="12.9"/>
<circle cx="1390.1" cy="1138.8" r="12.9"/>
<circle cx="1346.4" cy="1135.2" r="12.9"/>
<circle cx="1396.3" cy="1137.3" r="12.9"/>
<circle cx="1304.3" cy="1139.0" r="12.9"/>
<circle cx="1279.3" cy="1138.4" r="12.9"/>
<circle cx="1340.8" cy="1133.7" r="12.9"/>
<circle cx="1393.5" cy="1138.6" r="12.9"/>
<circle cx="1337.5" cy="1131.3" r="12.9"/>
<circle cx="1390.4" cy="1139.1" r="12.9"/>
<circle cx="1407.4" cy="1138.8" r="12.9"/>
<circle cx="1361.3" cy="1138.9" r="12.9"/>
<circle cx="1367.9" cy="1136.5" r="12.9"/>
<circle cx="1410.4" cy="1134.6" r="12.9"/>
<circle cx="1398.5" cy="1138.7" r="12.9"/>
<circle cx="1359.8" cy="1138.6" r="12.9"/>
<circle cx="1323.0" cy="1133.9" r="12.9"/>
<circle cx="1380.4" cy="1139.1" r="12.9"/>
<circle cx="1331.0" cy="1126.3" r="12.9"/>
<circle cx="1312.6" cy="1135.7" r="12.9"/>
<circle cx="1342.5" cy="1139.0" r="12.9"/>
<circle cx="1409.4" cy="1127.6" r="12.9"/>
<circle cx="1318.0" cy="1139.2" r="12.9"/>
<circle cx="1354.3" cy="1127.9" r="12.9"/>
<circle cx="1276.7" cy="1123.1" r="12.9"/>
<circle cx="1348.4" cy="1139.2" r="12.9"/>
<circle cx="1271.9" cy="1138.5" r="12.9"/>
<circle cx="1357.4" cy="1127.8" r="12.9"/>
<circle cx="1400.2" cy="1132.3" r="12.9"/>
<circle cx="1271.0" cy="1139.6" r="12.9"/>
<circle cx="1413.5" cy="1139.6" r="12.9"/>
<circle cx="1271.5" cy="1131.0" r="12.9"/>
<circle cx="1413.0" cy="1130.0" r="12.9"/>
<circle cx="1273.0" cy="1124.0" r="12.9"/>
<circle cx="1413.5" cy="1125.0" r="12.9"/>
</g>
<rect x="505.7" y="1130.0" width="218.6" height="10.0" fill="#fff" fill-opacity="0.2" stroke="#333333" stroke-width="3.85" stroke-linejoin="round"/>
<line x1="505.7" x2="724.3" y1="1137.9" y2="1137.9" stroke="#333333" stroke-width="7.4"/>
<rect x="1232.7" y="1131.1" width="218.6" height="7.7" fill="#fff" fill-opacity="0.2" stroke="#333333" stroke-width="3.85" stroke-linejoin="round"/>
<line x1="1232.7" x2="1451.3" y1="1134.0" y2="1134.0" stroke="#333333" stroke-width="7.4"/>
<path d="M446.70,1138.9 L447.52,1138.8 L448.35,1138.7 L449.17,1138.6 L450.00,1138.5 L450.90,1138.4 L451.80,1138.3 L452.70,1138.2 L453.60,1138.1 L454.50,1138.0 L455.25,1137.9 L456.00,1137.8 L456.75,1137.7 L457.50,1137.6 L458.25,1137.5 L459.00,1137.4 L459.75,1137.3 L460.50,1137.2 L461.25,1137.1 L462.00,1137.0 L465.40,1136.9 L468.80,1136.8 L472.20,1136.7 L475.60,1136.6 L479.00,1136.5 L484.25,1136.4 L489.50,1136.3 L494.75,1136.2 L500.00,1136.1 L503.57,1136.0 L507.14,1135.9 L510.71,1135.8 L514.29,1135.7 L517.86,1135.6 L521.43,1135.5 L525.00,1135.4 L527.75,1135.3 L530.50,1135.2 L533.25,1135.1 L536.00,1135.0 L538.75,1134.9 L541.50,1134.8 L544.25,1134.7 L547.00,1134.6 L548.50,1134.5 L550.00,1134.4 L551.50,1134.3 L553.00,1134.2 L554.50,1134.1 L556.00,1134.0 L557.50,1133.9 L559.00,1133.8 L560.50,1133.7 L562.00,1133.6 L563.50,1133.5 L565.00,1133.4 L566.50,1133.3 L568.00,1133.2 L569.12,1133.1 L570.25,1133.0 L571.37,1132.9 L572.50,1132.8 L573.62,1132.7 L574.75,1132.6 L575.87,1132.5 L577.00,1132.4 L578.12,1132.3 L579.25,1132.2 L580.37,1132.1 L581.50,1132.0 L582.62,1131.9 L583.75,1131.8 L584.87,1131.7 L586.00,1131.6 L586.80,1131.5 L587.60,1131.4 L588.40,1131.3 L589.20,1131.2 L590.00,1131.1 L590.80,1131.0 L591.60,1130.9 L592.40,1130.8 L593.20,1130.7 L594.00,1130.6 L594.80,1130.5 L595.60,1130.4 L595.87,1130.3 L596.13,1130.2 L596.40,1130.1 L596.67,1130.0 L596.93,1129.9 L597.20,1129.8 L597.47,1129.7 L597.73,1129.6 L598.00,1129.5 L598.27,1129.4 L598.53,1129.3 L598.80,1129.2 L599.07,1129.1 L599.33,1129.0 L599.60,1128.9 L599.87,1128.8 L600.13,1128.7 L600.40,1128.6 L600.67,1128.5 L600.93,1128.4 L601.20,1128.3 L601.47,1128.2 L601.73,1128.1 L602.00,1128.0 L602.60,1127.4 L603.10,1126.9 L603.60,1126.4 L604.10,1125.9 L604.60,1125.4 L605.10,1124.9 L605.60,1124.4 L606.05,1123.9 L606.30,1123.4 L606.55,1122.9 L606.80,1122.4 L607.05,1121.9 L607.30,1121.4 L607.55,1120.9 L607.80,1120.4 L608.05,1119.9 L608.29,1119.4 L608.54,1118.9 L608.78,1118.4 L608.98,1117.9 L609.18,1116.9 L609.04,1114.9 L608.88,1114.4 L608.69,1113.9 L608.49,1113.4 L608.31,1112.9 L608.17,1112.4 L608.00,1111.4 L608.22,1108.9 L608.45,1108.4 L608.75,1107.9 L609.09,1107.4 L609.45,1106.9 L609.78,1106.4 L610.05,1105.9 L610.26,1105.4 L610.43,1104.9 L610.58,1104.4 L610.75,1103.9 L610.94,1103.4 L611.16,1102.9 L611.38,1102.4 L611.60,1101.9 L611.75,1101.4 L611.90,1100.9 L612.04,1100.4 L612.20,1099.9 L612.38,1099.4 L612.60,1098.9 L612.84,1098.4 L613.08,1097.9 L613.31,1097.4 L613.49,1096.9 L613.28,1093.4 L613.07,1092.9 L612.79,1092.4 L612.48,1091.9 L612.18,1091.4 L611.93,1090.9 L611.79,1090.4 L612.00,1088.9 L612.19,1088.4 L612.37,1087.9 L612.51,1087.4 L612.66,1086.4 L612.80,1085.4 L612.93,1084.9 L613.12,1084.4 L613.34,1083.9 L613.57,1083.4 L613.77,1082.9 L613.92,1082.4 L614.07,1073.9 L614.23,1073.4 L614.39,1072.9 L614.55,1072.4 L614.68,1071.9 L614.87,1070.9 L614.98,1069.4 L614.78,1064.4 L614.64,1063.9 L614.44,1063.4 L614.18,1062.9 L613.88,1062.4 L613.57,1061.9 L613.28,1061.4 L613.05,1060.9 L612.92,1060.4 L613.05,1059.4 L613.28,1058.9 L613.57,1058.4 L613.88,1057.9 L614.18,1057.4 L614.44,1056.9 L614.64,1056.4 L614.78,1055.9 L614.93,1054.9 L614.97,1054.4 L615.00,994.4 L615.00,934.4 L615.00,874.4 L615.00,814.4 L615.00,754.4 L615.00,694.4 L615.00,634.4 L615.00,574.4 L615.00,514.4 L615.00,454.4 L615.00,394.4 L615.00,334.4 L614.86,274.4 L614.66,273.4 L614.52,272.9 L614.36,272.4 L614.21,271.9 L614.07,271.4 L613.95,270.4 L614.07,269.4 L614.21,268.9 L614.36,268.4 L614.52,267.9 L614.66,267.4 L614.86,266.4 L614.98,264.9 L615.00,204.9 L615.00,144.9 L615.00,84.9 L614.86,78.4 L614.66,77.4 L614.52,76.9 L614.36,76.4 L614.21,75.9 L614.07,75.4 L613.95,74.4 L613.95,74.4 L616.05,74.4 L616.05,74.4 L615.93,75.4 L615.79,75.9 L615.64,76.4 L615.48,76.9 L615.34,77.4 L615.14,78.4 L615.00,84.9 L615.00,144.9 L615.00,204.9 L615.02,264.9 L615.14,266.4 L615.34,267.4 L615.48,267.9 L615.64,268.4 L615.79,268.9 L615.93,269.4 L616.05,270.4 L615.93,271.4 L615.79,271.9 L615.64,272.4 L615.48,272.9 L615.34,273.4 L615.14,274.4 L615.00,334.4 L615.00,394.4 L615.00,454.4 L615.00,514.4 L615.00,574.4 L615.00,634.4 L615.00,694.4 L615.00,754.4 L615.00,814.4 L615.00,874.4 L615.00,934.4 L615.00,994.4 L615.03,1054.4 L615.07,1054.9 L615.22,1055.9 L615.36,1056.4 L615.56,1056.9 L615.82,1057.4 L616.12,1057.9 L616.43,1058.4 L616.72,1058.9 L616.95,1059.4 L617.08,1060.4 L616.95,1060.9 L616.72,1061.4 L616.43,1061.9 L616.12,1062.4 L615.82,1062.9 L615.56,1063.4 L615.36,1063.9 L615.22,1064.4 L615.02,1069.4 L615.13,1070.9 L615.32,1071.9 L615.45,1072.4 L615.61,1072.9 L615.77,1073.4 L615.93,1073.9 L616.08,1082.4 L616.23,1082.9 L616.43,1083.4 L616.66,1083.9 L616.88,1084.4 L617.07,1084.9 L617.20,1085.4 L617.34,1086.4 L617.49,1087.4 L617.63,1087.9 L617.81,1088.4 L618.00,1088.9 L618.21,1090.4 L618.07,1090.9 L617.82,1091.4 L617.52,1091.9 L617.21,1092.4 L616.93,1092.9 L616.72,1093.4 L616.51,1096.9 L616.69,1097.4 L616.92,1097.9 L617.16,1098.4 L617.40,1098.9 L617.62,1099.4 L617.80,1099.9 L617.96,1100.4 L618.10,1100.9 L618.25,1101.4 L618.40,1101.9 L618.62,1102.4 L618.84,1102.9 L619.06,1103.4 L619.25,1103.9 L619.42,1104.4 L619.57,1104.9 L619.74,1105.4 L619.95,1105.9 L620.22,1106.4 L620.55,1106.9 L620.91,1107.4 L621.25,1107.9 L621.55,1108.4 L621.78,1108.9 L622.00,1111.4 L621.83,1112.4 L621.69,1112.9 L621.51,1113.4 L621.31,1113.9 L621.12,1114.4 L620.96,1114.9 L620.82,1116.9 L621.02,1117.9 L621.22,1118.4 L621.46,1118.9 L621.71,1119.4 L621.95,1119.9 L622.20,1120.4 L622.45,1120.9 L622.70,1121.4 L622.95,1121.9 L623.20,1122.4 L623.45,1122.9 L623.70,1123.4 L623.95,1123.9 L624.40,1124.4 L624.90,1124.9 L625.40,1125.4 L625.90,1125.9 L626.40,1126.4 L626.90,1126.9 L627.40,1127.4 L628.00,1128.0 L628.27,1128.1 L628.53,1128.2 L628.80,1128.3 L629.07,1128.4 L629.33,1128.5 L629.60,1128.6 L629.87,1128.7 L630.13,1128.8 L630.40,1128.9 L630.67,1129.0 L630.93,1129.1 L631.20,1129.2 L631.47,1129.3 L631.73,1129.4 L632.00,1129.5 L632.27,1129.6 L632.53,1129.7 L632.80,1129.8 L633.07,1129.9 L633.33,1130.0 L633.60,1130.1 L633.87,1130.2 L634.13,1130.3 L634.40,1130.4 L635.20,1130.5 L636.00,1130.6 L636.80,1130.7 L637.60,1130.8 L638.40,1130.9 L639.20,1131.0 L640.00,1131.1 L640.80,1131.2 L641.60,1131.3 L642.40,1131.4 L643.20,1131.5 L644.00,1131.6 L645.13,1131.7 L646.25,1131.8 L647.38,1131.9 L648.50,1132.0 L649.63,1132.1 L650.75,1132.2 L651.88,1132.3 L653.00,1132.4 L654.13,1132.5 L655.25,1132.6 L656.38,1132.7 L657.50,1132.8 L658.63,1132.9 L659.75,1133.0 L660.88,1133.1 L662.00,1133.2 L663.50,1133.3 L665.00,1133.4 L666.50,1133.5 L668.00,1133.6 L669.50,1133.7 L671.00,1133.8 L672.50,1133.9 L674.00,1134.0 L675.50,1134.1 L677.00,1134.2 L678.50,1134.3 L680.00,1134.4 L681.50,1134.5 L683.00,1134.6 L685.75,1134.7 L688.50,1134.8 L691.25,1134.9 L694.00,1135.0 L696.75,1135.1 L699.50,1135.2 L702.25,1135.3 L705.00,1135.4 L708.57,1135.5 L712.14,1135.6 L715.71,1135.7 L719.29,1135.8 L722.86,1135.9 L726.43,1136.0 L730.00,1136.1 L735.25,1136.2 L740.50,1136.3 L745.75,1136.4 L751.00,1136.5 L754.40,1136.6 L757.80,1136.7 L761.20,1136.8 L764.60,1136.9 L768.00,1137.0 L768.75,1137.1 L769.50,1137.2 L770.25,1137.3 L771.00,1137.4 L771.75,1137.5 L772.50,1137.6 L773.25,1137.7 L774.00,1137.8 L774.75,1137.9 L775.50,1138.0 L776.40,1138.1 L777.30,1138.2 L778.20,1138.3 L779.10,1138.4 L780.00,1138.5 L780.83,1138.6 L781.65,1138.7 L782.48,1138.8 L783.30,1138.9 Z" fill="#fff" fill-opacity="0.2" stroke="#333333" stroke-width="3.85" stroke-linejoin="round"/>
<path d="M1182.00,1138.9 L1180.58,1138.8 L1179.16,1138.7 L1177.74,1138.6 L1176.32,1138.5 L1174.90,1138.4 L1173.48,1138.3 L1172.06,1138.2 L1170.64,1138.1 L1169.22,1138.0 L1167.80,1137.9 L1166.38,1137.8 L1164.96,1137.7 L1163.54,1137.6 L1162.12,1137.5 L1160.70,1137.4 L1162.76,1137.3 L1164.82,1137.2 L1166.88,1137.1 L1168.94,1137.0 L1171.00,1136.9 L1173.62,1136.8 L1176.25,1136.7 L1178.87,1136.6 L1181.50,1136.5 L1184.12,1136.4 L1186.75,1136.3 L1189.37,1136.2 L1192.00,1136.1 L1194.78,1136.0 L1197.56,1135.9 L1200.33,1135.8 L1203.11,1135.7 L1205.89,1135.6 L1208.67,1135.5 L1211.44,1135.4 L1214.22,1135.3 L1217.00,1135.2 L1229.50,1135.1 L1242.00,1135.0 L1247.25,1134.9 L1252.50,1134.8 L1257.75,1134.7 L1263.00,1134.6 L1264.20,1134.5 L1265.40,1134.4 L1266.60,1134.3 L1267.80,1134.2 L1269.00,1134.1 L1270.20,1134.0 L1271.40,1133.9 L1272.60,1133.8 L1273.80,1133.7 L1275.00,1133.6 L1276.20,1133.5 L1277.40,1133.4 L1278.60,1133.3 L1279.80,1133.2 L1281.00,1133.1 L1282.20,1133.0 L1283.40,1132.9 L1284.60,1132.8 L1285.80,1132.7 L1287.00,1132.6 L1288.20,1132.5 L1289.40,1132.4 L1290.60,1132.3 L1291.80,1132.2 L1293.00,1132.1 L1294.20,1132.0 L1295.40,1131.9 L1296.60,1131.8 L1297.80,1131.7 L1299.00,1131.6 L1300.20,1131.5 L1301.40,1131.4 L1302.60,1131.3 L1303.80,1131.2 L1305.00,1131.1 L1306.20,1131.0 L1307.40,1130.9 L1308.60,1130.8 L1309.80,1130.7 L1311.00,1130.6 L1311.36,1130.5 L1311.72,1130.4 L1312.08,1130.3 L1312.44,1130.2 L1312.81,1130.1 L1313.17,1130.0 L1313.53,1129.9 L1313.89,1129.8 L1314.25,1129.7 L1314.61,1129.6 L1314.97,1129.5 L1315.33,1129.4 L1315.69,1129.3 L1316.06,1129.2 L1316.42,1129.1 L1316.78,1129.0 L1317.14,1128.9 L1317.50,1128.8 L1317.86,1128.7 L1318.22,1128.6 L1318.58,1128.5 L1318.94,1128.4 L1319.31,1128.3 L1319.67,1128.2 L1320.03,1128.1 L1320.39,1128.0 L1320.75,1127.9 L1322.56,1127.4 L1324.14,1126.9 L1324.84,1126.4 L1325.54,1125.9 L1326.24,1125.4 L1326.94,1124.9 L1327.64,1124.4 L1328.34,1123.9 L1329.04,1123.4 L1329.74,1122.9 L1330.44,1122.4 L1331.06,1121.9 L1331.36,1121.4 L1331.66,1120.9 L1331.96,1120.4 L1332.26,1119.9 L1332.56,1119.4 L1332.86,1118.9 L1333.15,1118.4 L1333.44,1117.9 L1333.72,1117.4 L1333.98,1116.9 L1334.21,1116.4 L1334.39,1115.9 L1334.54,1114.9 L1334.36,1113.9 L1334.19,1113.4 L1334.01,1112.9 L1333.85,1112.4 L1333.60,1111.4 L1333.91,1109.9 L1334.18,1109.4 L1334.46,1108.9 L1334.71,1108.4 L1334.92,1107.9 L1335.09,1107.4 L1335.23,1106.9 L1335.38,1106.4 L1335.55,1105.9 L1335.74,1105.4 L1335.95,1104.9 L1336.16,1104.4 L1336.36,1103.9 L1336.54,1103.4 L1336.71,1102.9 L1336.84,1102.4 L1337.08,1101.4 L1337.20,1100.9 L1337.36,1100.4 L1337.56,1099.9 L1337.78,1099.4 L1338.06,1098.9 L1338.36,1098.4 L1338.68,1097.9 L1338.99,1097.4 L1339.27,1096.9 L1339.51,1096.4 L1339.70,1095.9 L1339.82,1095.4 L1339.63,1093.9 L1339.41,1093.4 L1339.18,1092.9 L1339.01,1092.4 L1339.25,1090.9 L1339.59,1090.4 L1340.01,1089.9 L1340.43,1089.4 L1340.81,1088.9 L1341.12,1088.4 L1341.35,1087.9 L1341.50,1087.4 L1341.26,1084.9 L1341.05,1084.4 L1340.86,1083.9 L1340.73,1083.4 L1340.95,1080.9 L1341.19,1079.9 L1341.31,1079.4 L1341.44,1078.9 L1341.57,1078.4 L1341.69,1077.9 L1341.87,1076.9 L1341.96,1075.9 L1341.82,1069.9 L1341.60,1068.9 L1341.45,1068.4 L1341.31,1067.9 L1341.17,1067.4 L1341.01,1066.4 L1341.25,1064.4 L1341.39,1063.9 L1341.54,1063.4 L1341.67,1062.9 L1341.87,1061.9 L1341.96,1060.9 L1341.80,1050.9 L1341.60,1049.9 L1341.43,1048.9 L1341.56,1046.9 L1341.77,1045.9 L1341.91,1044.9 L1341.97,1043.9 L1341.81,1038.9 L1341.61,1037.9 L1341.37,1036.9 L1341.21,1035.9 L1341.42,1032.4 L1341.65,1031.4 L1341.85,1030.4 L1341.97,1028.9 L1341.82,1008.9 L1341.63,1007.9 L1341.45,1006.9 L1341.64,1004.4 L1341.80,1003.4 L1341.62,1000.9 L1341.45,999.9 L1341.63,997.4 L1341.78,996.4 L1341.65,994.4 L1341.47,993.4 L1341.60,990.9 L1341.80,989.9 L1341.93,988.9 L1341.96,988.4 L1341.80,975.9 L1341.60,974.9 L1341.43,973.9 L1341.56,971.9 L1341.77,970.9 L1341.91,969.9 L1341.97,968.9 L1341.85,963.4 L1341.67,962.4 L1341.47,961.4 L1341.60,958.9 L1341.80,957.9 L1341.67,954.9 L1341.50,954.4 L1341.29,953.9 L1341.05,953.4 L1340.81,952.9 L1340.59,952.4 L1340.44,951.9 L1340.67,949.9 L1340.85,949.4 L1341.01,948.9 L1341.13,948.4 L1341.26,947.4 L1341.43,945.9 L1341.62,944.9 L1341.74,943.9 L1341.55,941.9 L1341.41,940.9 L1341.60,938.9 L1341.78,937.9 L1341.65,935.4 L1341.51,934.9 L1341.35,934.4 L1341.20,933.9 L1341.07,933.4 L1341.20,930.9 L1341.36,930.4 L1341.51,929.9 L1341.66,929.4 L1341.86,928.4 L1341.98,926.9 L1341.82,913.9 L1341.63,912.9 L1341.45,911.9 L1341.65,909.4 L1341.83,908.4 L1341.97,906.9 L1341.82,887.9 L1341.63,886.9 L1341.45,885.9 L1341.65,883.4 L1341.83,882.4 L1341.97,880.9 L1341.80,865.9 L1341.60,864.9 L1341.43,863.9 L1341.56,861.9 L1341.77,860.9 L1341.91,859.9 L1341.97,858.9 L1341.80,839.9 L1341.60,838.9 L1341.43,837.9 L1341.56,835.9 L1341.77,834.9 L1341.91,833.9 L1341.97,832.9 L1341.80,827.9 L1341.58,826.9 L1341.46,826.4 L1341.25,825.4 L1341.13,823.9 L1341.25,822.4 L1341.46,821.4 L1341.58,820.9 L1341.80,819.9 L1341.93,818.9 L1341.96,818.4 L1341.80,799.9 L1341.60,798.9 L1341.43,797.9 L1341.56,795.9 L1341.77,794.9 L1341.91,793.9 L1341.97,792.9 L1341.80,760.9 L1341.60,759.9 L1341.41,758.9 L1341.60,752.9 L1341.80,751.9 L1341.93,750.9 L1341.96,750.4 L1341.80,724.9 L1341.60,723.9 L1341.43,722.9 L1341.56,720.9 L1341.77,719.9 L1341.91,718.9 L1341.97,717.9 L1341.80,695.9 L1341.60,694.9 L1341.43,693.9 L1341.56,691.9 L1341.77,690.9 L1341.91,689.9 L1341.97,688.9 L1342.00,628.9 L1341.88,588.4 L1341.71,587.4 L1341.51,586.4 L1341.67,582.9 L1341.54,580.9 L1341.41,579.9 L1341.60,577.9 L1341.80,576.9 L1341.93,575.9 L1341.96,575.4 L1341.77,552.9 L1341.56,551.9 L1341.42,550.9 L1341.60,548.9 L1341.80,547.9 L1341.93,546.9 L1341.96,546.4 L1342.00,486.4 L1342.00,426.4 L1342.00,366.4 L1342.00,306.4 L1342.00,246.4 L1342.00,186.4 L1341.85,147.4 L1341.67,146.4 L1341.47,145.4 L1341.40,144.5 L1342.60,144.5 L1342.53,145.4 L1342.33,146.4 L1342.15,147.4 L1342.00,186.4 L1342.00,246.4 L1342.00,306.4 L1342.00,366.4 L1342.00,426.4 L1342.00,486.4 L1342.04,546.4 L1342.07,546.9 L1342.20,547.9 L1342.40,548.9 L1342.58,550.9 L1342.44,551.9 L1342.23,552.9 L1342.04,575.4 L1342.07,575.9 L1342.20,576.9 L1342.40,577.9 L1342.59,579.9 L1342.46,580.9 L1342.33,582.9 L1342.49,586.4 L1342.29,587.4 L1342.12,588.4 L1342.00,628.9 L1342.03,688.9 L1342.09,689.9 L1342.23,690.9 L1342.44,691.9 L1342.57,693.9 L1342.40,694.9 L1342.20,695.9 L1342.03,717.9 L1342.09,718.9 L1342.23,719.9 L1342.44,720.9 L1342.57,722.9 L1342.40,723.9 L1342.20,724.9 L1342.04,750.4 L1342.07,750.9 L1342.20,751.9 L1342.40,752.9 L1342.59,758.9 L1342.40,759.9 L1342.20,760.9 L1342.03,792.9 L1342.09,793.9 L1342.23,794.9 L1342.44,795.9 L1342.57,797.9 L1342.40,798.9 L1342.20,799.9 L1342.04,818.4 L1342.07,818.9 L1342.20,819.9 L1342.42,820.9 L1342.54,821.4 L1342.75,822.4 L1342.87,823.9 L1342.75,825.4 L1342.54,826.4 L1342.42,826.9 L1342.20,827.9 L1342.03,832.9 L1342.09,833.9 L1342.23,834.9 L1342.44,835.9 L1342.57,837.9 L1342.40,838.9 L1342.20,839.9 L1342.03,858.9 L1342.09,859.9 L1342.23,860.9 L1342.44,861.9 L1342.57,863.9 L1342.40,864.9 L1342.20,865.9 L1342.03,880.9 L1342.17,882.4 L1342.35,883.4 L1342.55,885.9 L1342.37,886.9 L1342.18,887.9 L1342.03,906.9 L1342.17,908.4 L1342.35,909.4 L1342.55,911.9 L1342.37,912.9 L1342.18,913.9 L1342.02,926.9 L1342.14,928.4 L1342.34,929.4 L1342.49,929.9 L1342.64,930.4 L1342.80,930.9 L1342.93,933.4 L1342.80,933.9 L1342.65,934.4 L1342.49,934.9 L1342.35,935.4 L1342.22,937.9 L1342.40,938.9 L1342.59,940.9 L1342.45,941.9 L1342.26,943.9 L1342.38,944.9 L1342.57,945.9 L1342.74,947.4 L1342.87,948.4 L1342.99,948.9 L1343.15,949.4 L1343.33,949.9 L1343.56,951.9 L1343.41,952.4 L1343.19,952.9 L1342.95,953.4 L1342.71,953.9 L1342.50,954.4 L1342.33,954.9 L1342.20,957.9 L1342.40,958.9 L1342.53,961.4 L1342.33,962.4 L1342.15,963.4 L1342.03,968.9 L1342.09,969.9 L1342.23,970.9 L1342.44,971.9 L1342.57,973.9 L1342.40,974.9 L1342.20,975.9 L1342.04,988.4 L1342.07,988.9 L1342.20,989.9 L1342.40,990.9 L1342.53,993.4 L1342.35,994.4 L1342.22,996.4 L1342.37,997.4 L1342.55,999.9 L1342.38,1000.9 L1342.20,1003.4 L1342.36,1004.4 L1342.55,1006.9 L1342.37,1007.9 L1342.18,1008.9 L1342.03,1028.9 L1342.15,1030.4 L1342.35,1031.4 L1342.58,1032.4 L1342.79,1035.9 L1342.63,1036.9 L1342.39,1037.9 L1342.19,1038.9 L1342.03,1043.9 L1342.09,1044.9 L1342.23,1045.9 L1342.44,1046.9 L1342.57,1048.9 L1342.40,1049.9 L1342.20,1050.9 L1342.04,1060.9 L1342.13,1061.9 L1342.33,1062.9 L1342.46,1063.4 L1342.61,1063.9 L1342.75,1064.4 L1342.99,1066.4 L1342.83,1067.4 L1342.69,1067.9 L1342.55,1068.4 L1342.40,1068.9 L1342.18,1069.9 L1342.04,1075.9 L1342.13,1076.9 L1342.31,1077.9 L1342.43,1078.4 L1342.56,1078.9 L1342.69,1079.4 L1342.81,1079.9 L1343.05,1080.9 L1343.27,1083.4 L1343.14,1083.9 L1342.95,1084.4 L1342.74,1084.9 L1342.50,1087.4 L1342.65,1087.9 L1342.88,1088.4 L1343.19,1088.9 L1343.57,1089.4 L1343.99,1089.9 L1344.41,1090.4 L1344.75,1090.9 L1344.99,1092.4 L1344.82,1092.9 L1344.59,1093.4 L1344.37,1093.9 L1344.18,1095.4 L1344.30,1095.9 L1344.49,1096.4 L1344.73,1096.9 L1345.01,1097.4 L1345.32,1097.9 L1345.64,1098.4 L1345.94,1098.9 L1346.22,1099.4 L1346.44,1099.9 L1346.64,1100.4 L1346.80,1100.9 L1346.92,1101.4 L1347.16,1102.4 L1347.29,1102.9 L1347.46,1103.4 L1347.64,1103.9 L1347.84,1104.4 L1348.05,1104.9 L1348.26,1105.4 L1348.45,1105.9 L1348.62,1106.4 L1348.77,1106.9 L1348.91,1107.4 L1349.08,1107.9 L1349.29,1108.4 L1349.54,1108.9 L1349.82,1109.4 L1350.09,1109.9 L1350.40,1111.4 L1350.15,1112.4 L1349.99,1112.9 L1349.81,1113.4 L1349.64,1113.9 L1349.46,1114.9 L1349.61,1115.9 L1349.79,1116.4 L1350.02,1116.9 L1350.28,1117.4 L1350.56,1117.9 L1350.85,1118.4 L1351.14,1118.9 L1351.44,1119.4 L1351.74,1119.9 L1352.04,1120.4 L1352.34,1120.9 L1352.64,1121.4 L1352.94,1121.9 L1353.56,1122.4 L1354.26,1122.9 L1354.96,1123.4 L1355.66,1123.9 L1356.36,1124.4 L1357.06,1124.9 L1357.76,1125.4 L1358.46,1125.9 L1359.16,1126.4 L1359.86,1126.9 L1361.44,1127.4 L1363.25,1127.9 L1363.61,1128.0 L1363.97,1128.1 L1364.33,1128.2 L1364.69,1128.3 L1365.06,1128.4 L1365.42,1128.5 L1365.78,1128.6 L1366.14,1128.7 L1366.50,1128.8 L1366.86,1128.9 L1367.22,1129.0 L1367.58,1129.1 L1367.94,1129.2 L1368.31,1129.3 L1368.67,1129.4 L1369.03,1129.5 L1369.39,1129.6 L1369.75,1129.7 L1370.11,1129.8 L1370.47,1129.9 L1370.83,1130.0 L1371.19,1130.1 L1371.56,1130.2 L1371.92,1130.3 L1372.28,1130.4 L1372.64,1130.5 L1373.00,1130.6 L1374.20,1130.7 L1375.40,1130.8 L1376.60,1130.9 L1377.80,1131.0 L1379.00,1131.1 L1380.20,1131.2 L1381.40,1131.3 L1382.60,1131.4 L1383.80,1131.5 L1385.00,1131.6 L1386.20,1131.7 L1387.40,1131.8 L1388.60,1131.9 L1389.80,1132.0 L1391.00,1132.1 L1392.20,1132.2 L1393.40,1132.3 L1394.60,1132.4 L1395.80,1132.5 L1397.00,1132.6 L1398.20,1132.7 L1399.40,1132.8 L1400.60,1132.9 L1401.80,1133.0 L1403.00,1133.1 L1404.20,1133.2 L1405.40,1133.3 L1406.60,1133.4 L1407.80,1133.5 L1409.00,1133.6 L1410.20,1133.7 L1411.40,1133.8 L1412.60,1133.9 L1413.80,1134.0 L1415.00,1134.1 L1416.20,1134.2 L1417.40,1134.3 L1418.60,1134.4 L1419.80,1134.5 L1421.00,1134.6 L1426.25,1134.7 L1431.50,1134.8 L1436.75,1134.9 L1442.00,1135.0 L1454.50,1135.1 L1467.00,1135.2 L1469.78,1135.3 L1472.56,1135.4 L1475.33,1135.5 L1478.11,1135.6 L1480.89,1135.7 L1483.67,1135.8 L1486.44,1135.9 L1489.22,1136.0 L1492.00,1136.1 L1494.63,1136.2 L1497.25,1136.3 L1499.88,1136.4 L1502.50,1136.5 L1505.13,1136.6 L1507.75,1136.7 L1510.38,1136.8 L1513.00,1136.9 L1515.06,1137.0 L1517.12,1137.1 L1519.18,1137.2 L1521.24,1137.3 L1523.30,1137.4 L1521.88,1137.5 L1520.46,1137.6 L1519.04,1137.7 L1517.62,1137.8 L1516.20,1137.9 L1514.78,1138.0 L1513.36,1138.1 L1511.94,1138.2 L1510.52,1138.3 L1509.10,1138.4 L1507.68,1138.5 L1506.26,1138.6 L1504.84,1138.7 L1503.42,1138.8 L1502.00,1138.9 Z" fill="#fff" fill-opacity="0.2" stroke="#333333" stroke-width="3.85" stroke-linejoin="round"/>
<circle cx="615.5" cy="1122.45" r="23.5" fill="#8B0000"/>
<circle cx="1342.5" cy="1112.45" r="23.5" fill="#8B0000"/>
<line x1="619.1" x2="776" y1="1122.0" y2="1122.0" stroke="#000" stroke-width="4.0" stroke-dasharray="18.8 9.1 6.9 9.1" stroke-dashoffset="8.6"/>
<line x1="1346.3" x2="1504" y1="1112.0" y2="1112.0" stroke="#000" stroke-width="4.0" stroke-dasharray="18.9 9.1 6.9 9.1" stroke-dashoffset="8.3"/>
<rect x="775.55" y="1089.30" width="260.1" height="66.2" rx="6.5" ry="6.5" fill="#fff" stroke="#000" stroke-width="2"/>
<polyline points="789.8,1113.6 801.3,1104.3 812.8,1113.6" fill="none" stroke="#000" stroke-width="2.4" stroke-linejoin="miter"/>
<text transform="translate(788.8,1135.1) scale(1.18,0.92)" font-family="'Liberation Serif', 'DejaVu Serif', serif" font-size="36" fill="#000">μ</text>
<text x="810.5" y="1142.0" font-family="'Liberation Sans', sans-serif" font-size="25.9" fill="#000">mean</text>
<text x="882.9" y="1138.5" font-family="'Liberation Serif', serif" font-size="35.6" fill="#000">=</text>
<text transform="translate(911.8,1135.3) scale(1,1.04)" font-family="'Liberation Sans', sans-serif" font-size="35.6" fill="#000">168.35</text>
<rect x="1503.35" y="1078.60" width="260.1" height="66.2" rx="6.5" ry="6.5" fill="#fff" stroke="#000" stroke-width="2"/>
<polyline points="1517.6,1102.9 1529.1,1093.6 1540.6,1102.9" fill="none" stroke="#000" stroke-width="2.4" stroke-linejoin="miter"/>
<text transform="translate(1516.6,1124.4) scale(1.18,0.92)" font-family="'Liberation Serif', 'DejaVu Serif', serif" font-size="36" fill="#000">μ</text>
<text x="1538.3" y="1131.3" font-family="'Liberation Sans', sans-serif" font-size="25.9" fill="#000">mean</text>
<text x="1610.7" y="1127.8" font-family="'Liberation Serif', serif" font-size="35.6" fill="#000">=</text>
<text transform="translate(1639.6,1124.6) scale(1,1.04)" font-family="'Liberation Sans', sans-serif" font-size="35.6" fill="#000">271.73</text>
<line x1="168.0" x2="178.2" y1="1139.00" y2="1139.00" stroke="#333333" stroke-width="3.85"/>
<text transform="translate(160.1,1153.1) scale(1,1.045)" text-anchor="end" textLength="18.0" lengthAdjust="spacingAndGlyphs" font-family="'Liberation Sans', sans-serif" font-size="33.3" fill="#4D4D4D" stroke="#4D4D4D" stroke-width="0.35">0</text>
<line x1="168.0" x2="178.2" y1="885.00" y2="885.00" stroke="#333333" stroke-width="3.85"/>
<text transform="translate(160.1,899.1) scale(1,1.045)" text-anchor="end" textLength="72.0" lengthAdjust="spacingAndGlyphs" font-family="'Liberation Sans', sans-serif" font-size="33.3" fill="#4D4D4D" stroke="#4D4D4D" stroke-width="0.35">2500</text>
<line x1="168.0" x2="178.2" y1="632.00" y2="632.00" stroke="#333333" stroke-width="3.85"/>
<text transform="translate(160.1,645.1) scale(1,1.045)" text-anchor="end" textLength="72.0" lengthAdjust="spacingAndGlyphs" font-family="'Liberation Sans', sans-serif" font-size="33.3" fill="#4D4D4D" stroke="#4D4D4D" stroke-width="0.35">5000</text>
<line x1="168.0" x2="178.2" y1="378.00" y2="378.00" stroke="#333333" stroke-width="3.85"/>
<text transform="translate(160.1,391.1) scale(1,1.045)" text-anchor="end" textLength="72.0" lengthAdjust="spacingAndGlyphs" font-family="'Liberation Sans', sans-serif" font-size="33.3" fill="#4D4D4D" stroke="#4D4D4D" stroke-width="0.35">7500</text>
<line x1="168.0" x2="178.2" y1="124.00" y2="124.00" stroke="#333333" stroke-width="3.85"/>
<text transform="translate(160.1,137.1) scale(1,1.045)" text-anchor="end" textLength="90.0" lengthAdjust="spacingAndGlyphs" font-family="'Liberation Sans', sans-serif" font-size="33.3" fill="#4D4D4D" stroke="#4D4D4D" stroke-width="0.35">10000</text>
<line x1="615.0" x2="615.0" y1="1193.0" y2="1203.0" stroke="#333333" stroke-width="3.85"/>
<text x="614.5" y="1236.7" text-anchor="middle" textLength="107.2" lengthAdjust="spacingAndGlyphs" font-family="'Liberation Sans', sans-serif" font-size="33.3" fill="#4D4D4D" stroke="#4D4D4D" stroke-width="0.3">Healthy</text>
<text x="614.8" y="1272.8" text-anchor="middle" textLength="131.9" lengthAdjust="spacingAndGlyphs" font-family="'Liberation Sans', sans-serif" font-size="33.3" fill="#4D4D4D" stroke="#4D4D4D" stroke-width="0.3">(n = 210)</text>
<line x1="1342.0" x2="1342.0" y1="1193.0" y2="1203.0" stroke="#333333" stroke-width="3.85"/>
<text x="1341.5" y="1236.7" text-anchor="middle" textLength="76.5" lengthAdjust="spacingAndGlyphs" font-family="'Liberation Sans', sans-serif" font-size="33.3" fill="#4D4D4D" stroke="#4D4D4D" stroke-width="0.3">Case</text>
<text x="1341.8" y="1272.8" text-anchor="middle" textLength="132.2" lengthAdjust="spacingAndGlyphs" font-family="'Liberation Sans', sans-serif" font-size="33.3" fill="#4D4D4D" stroke="#4D4D4D" stroke-width="0.3">(n = 413)</text>
<text transform="translate(52.1,606.1) rotate(-90)" text-anchor="middle" textLength="557.4" lengthAdjust="spacingAndGlyphs" font-family="'Liberation Sans', sans-serif" font-weight="bold" font-size="41.7" fill="#000">Molecule Expression (fpkm)</text>
</svg>
</body>
</html>
